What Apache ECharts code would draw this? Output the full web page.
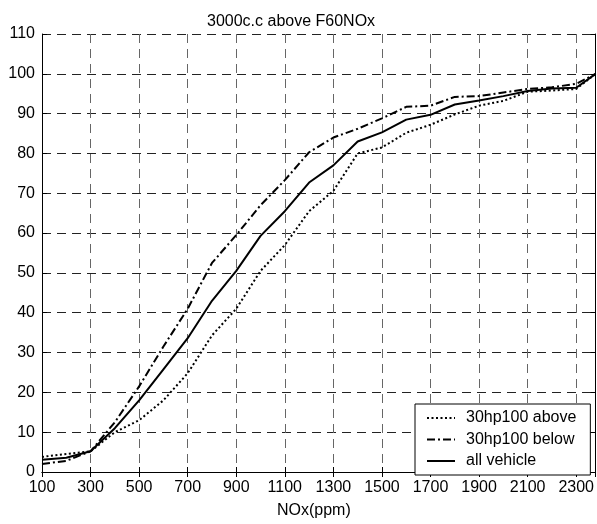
<!DOCTYPE html>
<html>
<head>
<meta charset="utf-8">
<script src="https://cdn.jsdelivr.net/npm/echarts@6/dist/echarts.min.js"></script>
<style>html,body{margin:0;padding:0;background:#fff;}#c{width:597px;height:524px;}</style>
</head>
<body>
<div id="c"></div>
<script>
const xValues = [100,200,300,400,500,600,700,800,900,1000,1100,1200,1300,1400,1500,1600,1700,1800,1900,2000,2100,2200,2300,2380];
const above = [3.8,4.5,5.2,10,13,18,24.8,34.3,41,50.5,57,65.5,70.6,80,81.5,85.2,87.2,89.8,92,93.2,95.5,95.8,96.2,100];
const below = [2,2.8,5.2,12.5,21.5,31.5,41,52.5,59.5,67,73.3,80.3,84,86.2,88.8,91.7,92,94.2,94.4,95.3,96.2,96.6,97.5,100];
const allVehicle = [3.1,3.6,5.2,11,18,25.8,33.6,43,50.5,59.3,65.5,72.7,77,83,85.3,88.5,89.7,92.3,93.3,94.4,95.7,96.3,96.5,100];
const seriesNames = ['30hp100 above','30hp100 below','all vehicle'];
const xTicks = [100,300,500,700,900,1100,1300,1500,1700,1900,2100,2300];
const titleText = '3000c.c above F60NOx';
const xName = 'NOx(ppm)';

const font = 'Liberation Sans, Arial, sans-serif';
const pair = arr => xValues.map((x,i)=>[x,arr[i]]);
const chart = echarts.init(document.getElementById('c'));
const baseX = {type:'value', min:100, max:2380, interval:200};
const baseY = {type:'value', min:0, max:110, interval:10};
chart.setOption({
  animation:false,
  backgroundColor:'#fff',
  title:{text:titleText, left:202, top:9, textStyle:{fontFamily:font, fontSize:16, fontWeight:'normal', color:'#000'}},
  grid:{left:42, right:0, top:34, bottom:50},
  legend:{
    orient:'vertical', left:415, top:404,
    padding:[6,14,6,11], itemWidth:28, itemHeight:14, itemGap:5.5,
    borderColor:'#000', borderWidth:1, backgroundColor:'#fff',
    icon:'inherit',
    itemStyle:{opacity:0},
    textStyle:{fontFamily:font, fontSize:16, color:'#000', padding:[0,0,0,6]},
    data:seriesNames
  },
  xAxis:[
    Object.assign({}, baseX, {
      position:'bottom',
      name:xName, nameLocation:'middle', nameGap:31,
      nameTextStyle:{fontFamily:font, fontSize:16, color:'#000', padding:[0,10,0,0]},
      axisLine:{lineStyle:{color:'#000', width:1}},
      axisTick:{inside:true, length:5, lineStyle:{color:'#000'}},
      axisLabel:{fontFamily:font, fontSize:16, color:'#000', margin:8, showMaxLabel:false,
        formatter:v => xTicks.includes(v) ? String(v) : ''},
      splitLine:{show:true, lineStyle:{color:'#666', width:1, type:[9,6]}}
    }),
    Object.assign({}, baseX, {
      position:'top',
      axisLine:{lineStyle:{color:'#000', width:1}},
      axisTick:{inside:true, length:5, lineStyle:{color:'#000'}},
      axisLabel:{show:false}, splitLine:{show:false}
    })
  ],
  yAxis:[
    Object.assign({}, baseY, {
      position:'left',
      axisLine:{show:true, lineStyle:{color:'#000', width:1}},
      axisTick:{show:true, inside:true, length:5, lineStyle:{color:'#000'}},
      axisLabel:{fontFamily:font, fontSize:16, color:'#000', margin:7},
      splitLine:{show:true, lineStyle:{color:'#222', width:1, type:[9,6]}}
    }),
    Object.assign({}, baseY, {
      position:'right',
      axisLine:{show:true, lineStyle:{color:'#000', width:1}},
      axisTick:{show:true, inside:true, length:5, lineStyle:{color:'#000'}},
      axisLabel:{show:false}, splitLine:{show:false}
    })
  ],
  series:[
    {name:seriesNames[0], type:'line', data:pair(above), symbol:'none', color:'#000',
      lineStyle:{color:'#000', width:2, type:[2,2.5]}},
    {name:seriesNames[1], type:'line', data:pair(below), symbol:'none', color:'#000',
      lineStyle:{color:'#000', width:2, type:[8,3,2,3]}},
    {name:seriesNames[2], type:'line', data:pair(allVehicle), symbol:'none', color:'#000',
      lineStyle:{color:'#000', width:2, type:'solid'}}
  ]
});
</script>
</body>
</html>
